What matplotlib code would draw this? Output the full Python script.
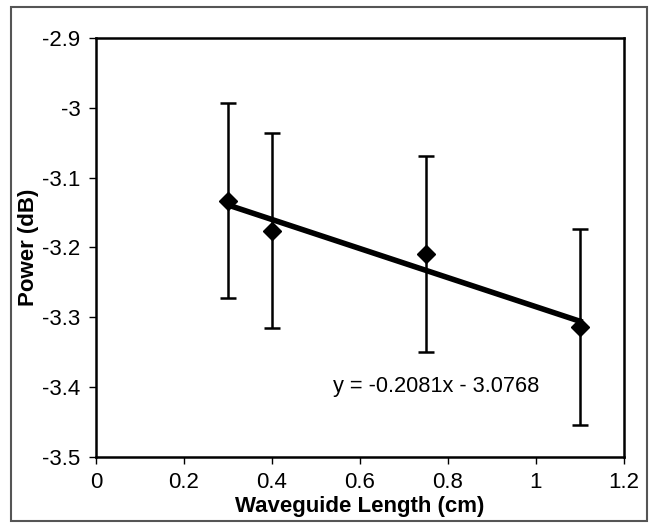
import matplotlib
matplotlib.use("Agg")
import matplotlib.pyplot as plt
from matplotlib.patches import Rectangle
import numpy as np

plt.rcParams['font.family'] = ['Liberation Sans', 'DejaVu Sans']

# Data
lengths = [0.3, 0.4, 0.75, 1.1]
power = [-3.133, -3.176, -3.209, -3.314]
errors = [0.14, 0.14, 0.14, 0.14]
slope = -0.2081
intercept = -3.0768
x_ticks = [0, 0.2, 0.4, 0.6, 0.8, 1, 1.2]
x_ticklabels = ["0", "0.2", "0.4", "0.6", "0.8", "1", "1.2"]
y_ticks = [-2.9, -3.0, -3.1, -3.2, -3.3, -3.4, -3.5]
y_ticklabels = ["-2.9", "-3", "-3.1", "-3.2", "-3.3", "-3.4", "-3.5"]
equation = "y = -0.2081x - 3.0768"

fig = plt.figure(figsize=(6.52, 5.25), dpi=100)
ax = fig.add_axes([0.147, 0.1295, 0.81, 0.7985])

# outer border
fig.patches.append(Rectangle((11/652, 1 - 521/525), (647-11)/652, (521-7)/525,
                             transform=fig.transFigure, fill=False,
                             edgecolor='#555555', linewidth=1.5))

ax.errorbar(lengths, power, yerr=errors, fmt='none', ecolor='black',
            elinewidth=1.8, capsize=5.5, capthick=1.8, zorder=2)
xfit = np.array([min(lengths), max(lengths)])
ax.plot(xfit, slope * xfit + intercept, color='black', linewidth=4, zorder=3)
ax.plot(lengths, power, linestyle='none', marker='D', markersize=9,
        color='black', zorder=4)

ax.set_xlim(0, 1.2)
ax.set_ylim(-3.5, -2.9)
ax.set_xticks(x_ticks)
ax.set_xticklabels(x_ticklabels)
ax.set_yticks(y_ticks)
ax.set_yticklabels(y_ticklabels)
ax.tick_params(direction='out', length=5, width=1, labelsize=16, pad=6)
for s in ax.spines.values():
    s.set_linewidth(1.8)
    s.set_color('black')

ax.set_xlabel("Waveguide Length (cm)", fontsize=16, fontweight='bold', labelpad=2)
ax.set_ylabel("Power (dB)", fontsize=16, fontweight='bold', labelpad=2)

ax.text(0.538, -3.399, equation, fontsize=15.7, ha='left', va='center')

fig.savefig("out.png", dpi=100)
